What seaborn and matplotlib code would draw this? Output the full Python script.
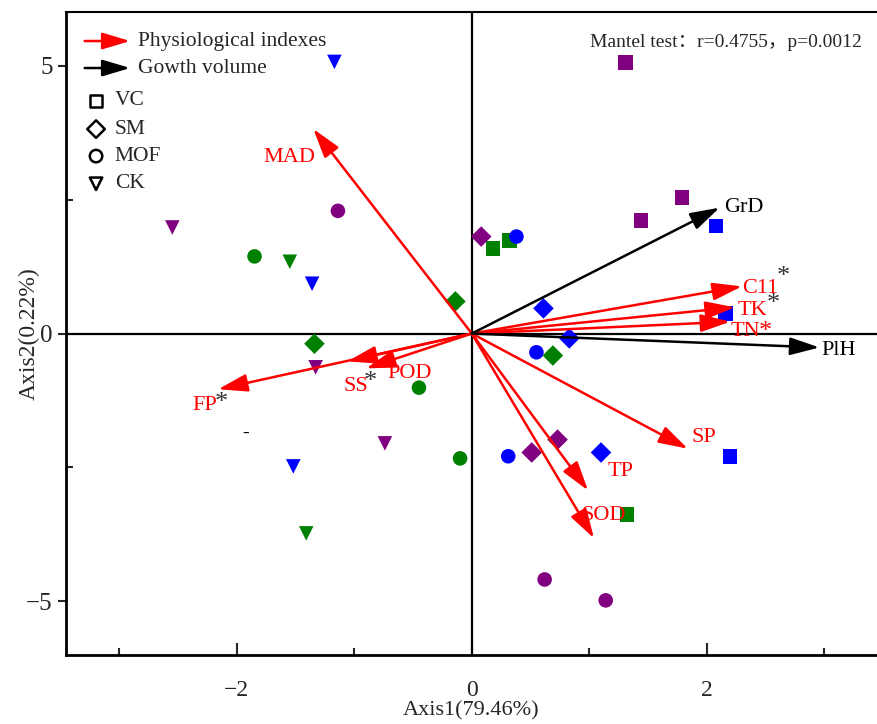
import numpy as np
import pandas as pd
import matplotlib
matplotlib.use("Agg")
import matplotlib.pyplot as plt
from matplotlib.ticker import MultipleLocator
import seaborn as sns

sns.set_theme(style="white")
plt.rcParams['font.family'] = ['Liberation Serif', 'Noto Sans CJK SC']

# sample scores (Axis1, Axis2)
treatment = ['VC'] * 9 + ['SM'] * 9 + ['MOF'] * 9 + ['CK'] * 8
replicate = (['R1'] * 3 + ['R2'] * 3 + ['R3'] * 3) * 3 + ['R1'] * 3 + ['R2'] * 3 + ['R3'] * 2
axis1 = [1.31, 1.79, 1.44, 2.08, 2.16, 2.20, 0.18, 0.32, 1.32,
         0.08, 0.73, 0.51, 0.61, 0.83, 1.10, -0.14, -1.34, 0.69,
         -1.14, 0.62, 1.14, 0.38, 0.55, 0.31, -1.85, -0.45, -0.10,
         -2.55, -1.33, -0.74, -1.17, -1.36, -1.52, -1.55, -1.41]
axis2 = [5.06, 2.54, 2.11, 2.01, 0.37, -2.29, 1.59, 1.74, -3.38,
         1.81, -1.98, -2.22, 0.47, -0.09, -2.22, 0.60, -0.19, -0.41,
         2.29, -4.59, -4.98, 1.81, -0.35, -2.29, 1.44, -1.01, -2.33,
         1.98, -0.63, -2.05, 5.07, 0.93, -2.48, 1.34, -3.73]

# loadings
phys_names = ['MAD', 'C11', 'TK', 'TN', 'FP', 'SS', 'POD', 'SP', 'TP', 'SOD']
phys_x = [-1.35, 2.30, 2.24, 2.20, -2.16, -1.06, -0.90, 1.84, 0.99, 1.04]
phys_y = [3.82, 0.88, 0.49, 0.22, -1.04, -0.52, -0.65, -2.15, -2.93, -3.82]
growth_names = ['GrD', 'PlH']
growth_x = [2.11, 2.96]
growth_y = [2.35, -0.26]

df = pd.DataFrame({'Axis1': axis1, 'Axis2': axis2, 'Treatment': treatment, 'Rep': replicate})

fig = plt.figure(figsize=(8.77, 7.24), dpi=100)
ax = fig.add_axes([0.0753, 0.0953, 0.9247, 0.888])

ax.axhline(0, color='black', lw=1.6, zorder=1)
ax.axvline(0, color='black', lw=1.6, zorder=1)

sns.scatterplot(data=df, x='Axis1', y='Axis2', hue='Rep', style='Treatment',
                palette={'R1': '#800080', 'R2': '#0000ff', 'R3': '#008000'},
                markers={'VC': 's', 'SM': 'D', 'MOF': 'o', 'CK': 'v'},
                s=110, linewidth=0, legend=False, ax=ax, zorder=3)

def arrow(x, y, color):
    ax.annotate('', xy=(x, y), xytext=(0, 0),
                arrowprops=dict(arrowstyle='-|>,head_length=1.0,head_width=0.3',
                                color=color, lw=1.8, mutation_scale=18,
                                shrinkA=0, shrinkB=0), zorder=4)

for x, y in zip(phys_x, phys_y):
    arrow(x, y, 'red')
for x, y in zip(growth_x, growth_y):
    arrow(x, y, 'black')

fs = 16
red_labels = {'MAD': (-1.55, 3.28, 'center'), 'C11': (2.30, 0.84, 'left'),
              'TK': (2.26, 0.43, 'left'), 'TN': (2.20, 0.04, 'left'),
              'FP': (-2.27, -1.34, 'center'), 'SS': (-0.99, -0.99, 'center'),
              'POD': (-0.53, -0.75, 'center'), 'SP': (1.98, -1.94, 'center'),
              'TP': (1.27, -2.57, 'center'), 'SOD': (1.12, -3.40, 'center')}
for name in phys_names:
    lx, ly, ha = red_labels[name]
    ax.text(lx, ly, name, color='red', fontsize=fs, ha=ha, va='center', zorder=5)
ax.text(2.15, 2.35, 'GrD', color='black', fontsize=fs, ha='left', va='center')
ax.text(2.98, -0.32, 'PlH', color='black', fontsize=fs, ha='left', va='center')

# significance marks
for sx, sy, c in [(2.65, 1.06, '#333333'), (2.57, 0.55, '#333333'), (2.50, 0.03, 'red'),
                  (-2.13, -1.30, '#333333'), (-0.865, -0.90, '#333333')]:
    ax.text(sx, sy, '*', color=c, fontsize=19, ha='center', va='center')
ax.text(-1.93, -1.87, '-', color='black', fontsize=14, ha='center', va='center')

# legend (drawn in axes fraction)
for yy, c, lab in [(0.955, 'red', 'Physiological indexes'), (0.913, 'black', 'Gowth volume')]:
    ax.annotate('', xy=(0.079, yy), xytext=(0.023, yy), xycoords='axes fraction',
                arrowprops=dict(arrowstyle='-|>,head_length=1.0,head_width=0.3',
                                color=c, lw=1.8, mutation_scale=17, shrinkA=0, shrinkB=0))
    ax.text(0.089, yy, lab, transform=ax.transAxes, fontsize=15.5, va='center', ha='left')
for yy, m, lab in [(0.862, 's', 'VC'), (0.818, 'D', 'SM'), (0.776, 'o', 'MOF'), (0.733, 'v', 'CK')]:
    ax.scatter([0.037], [yy], marker=m, s=80, facecolors='none', edgecolors='black',
               linewidths=1.8, transform=ax.transAxes, clip_on=False)
    ax.text(0.06, yy, lab, transform=ax.transAxes, fontsize=15.5, va='center', ha='left')

ax.text(0.646, 0.952, 'Mantel test：r=0.4755，p=0.0012', transform=ax.transAxes,
        fontsize=14, va='center', ha='left')

ax.set_xlim(-3.455, 3.45)
ax.set_ylim(-6, 6)
ax.xaxis.set_minor_locator(MultipleLocator(1))
ax.yaxis.set_minor_locator(MultipleLocator(2.5))
ax.set_xticks([-2, 0, 2])
ax.set_xticklabels(['\u22122', '0', '2'])
ax.set_yticks([-5, 0, 5])
ax.set_yticklabels(['\u22125', '0', '5'])
ax.tick_params(axis='x', which='major', direction='in', length=9, width=1.5, labelsize=17, pad=18, bottom=True)
ax.tick_params(axis='x', which='minor', direction='in', length=5, width=1.5, bottom=True)
ax.tick_params(axis='y', which='major', direction='out', length=6, width=1.5, labelsize=18, left=True)
ax.tick_params(axis='y', which='minor', direction='in', length=5, width=1.5, left=True)
ax.set_xlabel('Axis1(79.46%)', fontsize=16)
ax.xaxis.set_label_coords(0.5, -0.072)
ax.set_ylabel('Axis2(0.22%)', fontsize=17, labelpad=-10)

for side in ['left', 'bottom', 'top']:
    ax.spines[side].set_color('black')
    ax.spines[side].set_linewidth(2)
ax.spines['top'].set_linewidth(1.5)
ax.spines['right'].set_visible(False)
ax.grid(False)

fig.savefig('out.png', dpi=100)
